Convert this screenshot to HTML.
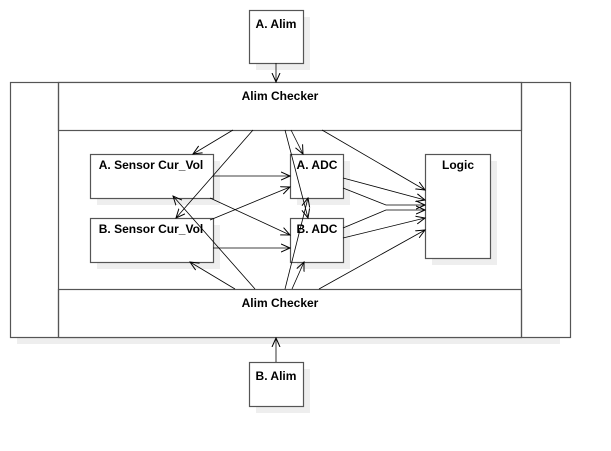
<!DOCTYPE html>
<html><head><style>body{margin:0;background:#fff}</style></head><body>
<svg width="611" height="446" xmlns="http://www.w3.org/2000/svg" font-family="Liberation Sans, sans-serif" font-size="12" font-weight="bold">
<defs><marker id="a" markerWidth="10" markerHeight="10" refX="9" refY="5" orient="auto" markerUnits="userSpaceOnUse"><path d="M0,1 L9,5 L0,9" fill="none" stroke="#000" stroke-width="1"/></marker></defs>
<g fill="#eee"><rect x="256" y="17" width="54" height="53"/><rect x="256" y="369" width="54" height="44"/><rect x="17" y="89" width="543" height="255"/></g>
<g fill="#fff" stroke="#555" stroke-width="1.2">
<rect x="249.5" y="10.5" width="54" height="53"/>
<rect x="249.5" y="362.5" width="54" height="44"/>
<rect x="10.5" y="82.5" width="560" height="255"/>
<rect x="58.5" y="82.5" width="463" height="48"/>
<rect x="58.5" y="289.5" width="463" height="48"/>
<line x1="58.5" y1="82" x2="58.5" y2="338"/><line x1="521.5" y1="82" x2="521.5" y2="338"/>
</g>
<g fill="#eee"><rect x="97" y="161" width="123" height="44"/><rect x="97" y="225" width="123" height="44"/><rect x="297" y="161" width="53" height="44"/><rect x="297" y="225" width="53" height="44"/><rect x="432" y="161" width="65" height="104"/></g>
<g fill="#fff" stroke="#555" stroke-width="1.2">
<rect x="90.5" y="154.5" width="123" height="44"/><rect x="90.5" y="218.5" width="123" height="44"/>
<rect x="290.5" y="154.5" width="53" height="44"/><rect x="290.5" y="218.5" width="53" height="44"/>
<rect x="425.5" y="154.5" width="65" height="104"/>
</g>
<g fill="#000" text-anchor="middle">
<text x="276" y="28">A. Alim</text><text x="276" y="380">B. Alim</text>
<text x="280" y="100">Alim Checker</text><text x="280" y="307">Alim Checker</text>
<text x="151" y="169">A. Sensor Cur_Vol</text><text x="151" y="233">B. Sensor Cur_Vol</text>
<text x="317" y="169">A. ADC</text><text x="317" y="233">B. ADC</text><text x="458" y="169">Logic</text>
</g>
<g stroke="#000" stroke-width="0.8" fill="none" marker-end="url(#a)">
<line x1="276" y1="63" x2="276" y2="82"/><line x1="276" y1="362" x2="276" y2="338"/>
<line x1="233" y1="130" x2="193" y2="154"/><line x1="253" y1="130" x2="176" y2="218"/>
<line x1="255" y1="289" x2="173" y2="196"/><line x1="235" y1="289" x2="190" y2="262"/>
<line x1="285" y1="130" x2="308" y2="218"/><line x1="291" y1="130" x2="303" y2="154"/>
<line x1="285" y1="289" x2="308" y2="198"/><line x1="292" y1="289" x2="304" y2="262"/>
<line x1="322" y1="130" x2="425" y2="190"/><line x1="319" y1="289" x2="425" y2="230"/>
<line x1="213" y1="176" x2="290" y2="176"/><line x1="210" y1="198" x2="290" y2="235"/>
<line x1="210" y1="220" x2="290" y2="187"/><line x1="213" y1="248" x2="290" y2="248"/>
<polyline points="343,178 425,200"/><polyline points="343,188 386,205 425,205"/>
<polyline points="343,228 386,210 425,210"/><polyline points="343,238 425,218"/>
</g>
</svg>
</body></html>
